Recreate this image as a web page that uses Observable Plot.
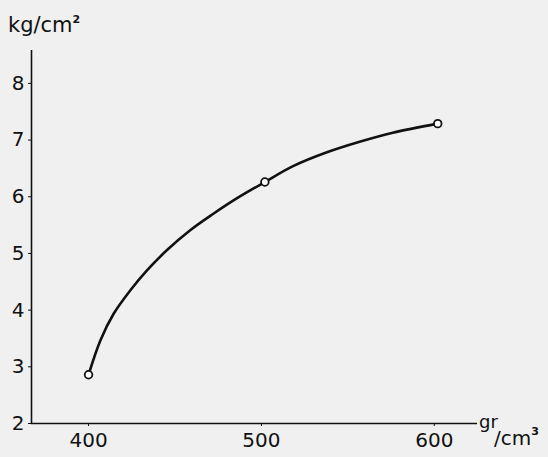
<!DOCTYPE html>
<html>
<head>
<meta charset="utf-8">
<script src="https://cdn.jsdelivr.net/npm/d3@7"></script>
<script src="https://cdn.jsdelivr.net/npm/@observablehq/plot@0.6"></script>
<style>
  html, body { margin: 0; padding: 0; background: #f0f0f0; }
  #chart svg { display: block; }
</style>
</head>
<body>
<div id="chart"></div>
<script>
// Measured points (density gr/cm³ vs pressure kg/cm²)
const pointX = [400, 502, 602];
const pointY = [2.86, 6.26, 7.29];

// Hand-drawn curve
const curveX = [400, 406.9, 414.6, 424.2, 433.8, 445.4, 458.8, 472.2, 485.7, 502, 518.3, 537.5, 556.8, 576, 602];
const curveY = [2.86, 3.47, 3.94, 4.35, 4.70, 5.06, 5.41, 5.70, 5.97, 6.26, 6.54, 6.78, 6.97, 7.13, 7.29];

const xTicks = [400, 500, 600];
const yTicks = [2, 3, 4, 5, 6, 7, 8];
const xDomain = [367, 625];
const yDomain = [2, 8.58];
const yUnit = "kg/cm";
const yUnitSup = "2";
const xUnitTop = "gr";
const xUnitBottom = "/cm";
const xUnitSup = "3";

const points = pointX.map((x, i) => ({x, y: pointY[i]}));
const curve = curveX.map((x, i) => ({x, y: curveY[i]}));

const font = "'DejaVu Sans', sans-serif";

const plot = Plot.plot({
  width: 548,
  height: 457,
  marginLeft: 31,
  marginRight: 71,
  marginTop: 50,
  marginBottom: 34,
  style: {background: "#f0f0f0", fontFamily: font, fontSize: "20px", color: "#111"},
  x: {domain: xDomain},
  y: {domain: yDomain},
  marks: [
    Plot.axisX({ticks: xTicks, tickFormat: d3.format("d"), tickSize: 3, tickPadding: 6, label: null, stroke: "#111", fontSize: 20}),
    Plot.axisY({ticks: yTicks, tickFormat: d3.format("d"), tickSize: 3, tickPadding: 4, label: null, stroke: "#111", fontSize: 20}),
    Plot.ruleY([yDomain[0]], {stroke: "#111", strokeWidth: 1.6}),
    Plot.ruleX([xDomain[0]], {stroke: "#111", strokeWidth: 1.6}),
    Plot.line(curve, {x: "x", y: "y", curve: "catmull-rom", stroke: "#111", strokeWidth: 2.6}),
    Plot.dot(points, {x: "x", y: "y", r: 3.8, stroke: "#111", strokeWidth: 1.8, fill: "#fff"})
  ]
});

document.getElementById("chart").appendChild(plot);

// Unit labels
const svg = d3.select(plot);
const sx = plot.scale("x"), sy = plot.scale("y");
const yl = svg.append("text")
  .attr("x", 8).attr("y", sy.apply(yDomain[1]) - 18)
  .attr("text-anchor", "start")
  .attr("font-family", font).attr("font-size", 21).attr("fill", "#111");
yl.append("tspan").text(yUnit);
yl.append("tspan").attr("font-size", 11).attr("font-weight", "bold").attr("dy", -9).text(yUnitSup);

const xr = sx.apply(xDomain[1]);
const y0 = sy.apply(yDomain[0]);
svg.append("text").attr("x", xr + 2).attr("y", y0 + 5)
  .attr("text-anchor", "start")
  .attr("font-family", font).attr("font-size", 18).attr("fill", "#111").text(xUnitTop);
const xl = svg.append("text").attr("x", xr + 17).attr("y", y0 + 22)
  .attr("text-anchor", "start")
  .attr("font-family", font).attr("font-size", 20).attr("fill", "#111");
xl.append("tspan").text(xUnitBottom);
xl.append("tspan").attr("font-size", 11).attr("font-weight", "bold").attr("dy", -10).text(xUnitSup);
</script>
</body>
</html>
